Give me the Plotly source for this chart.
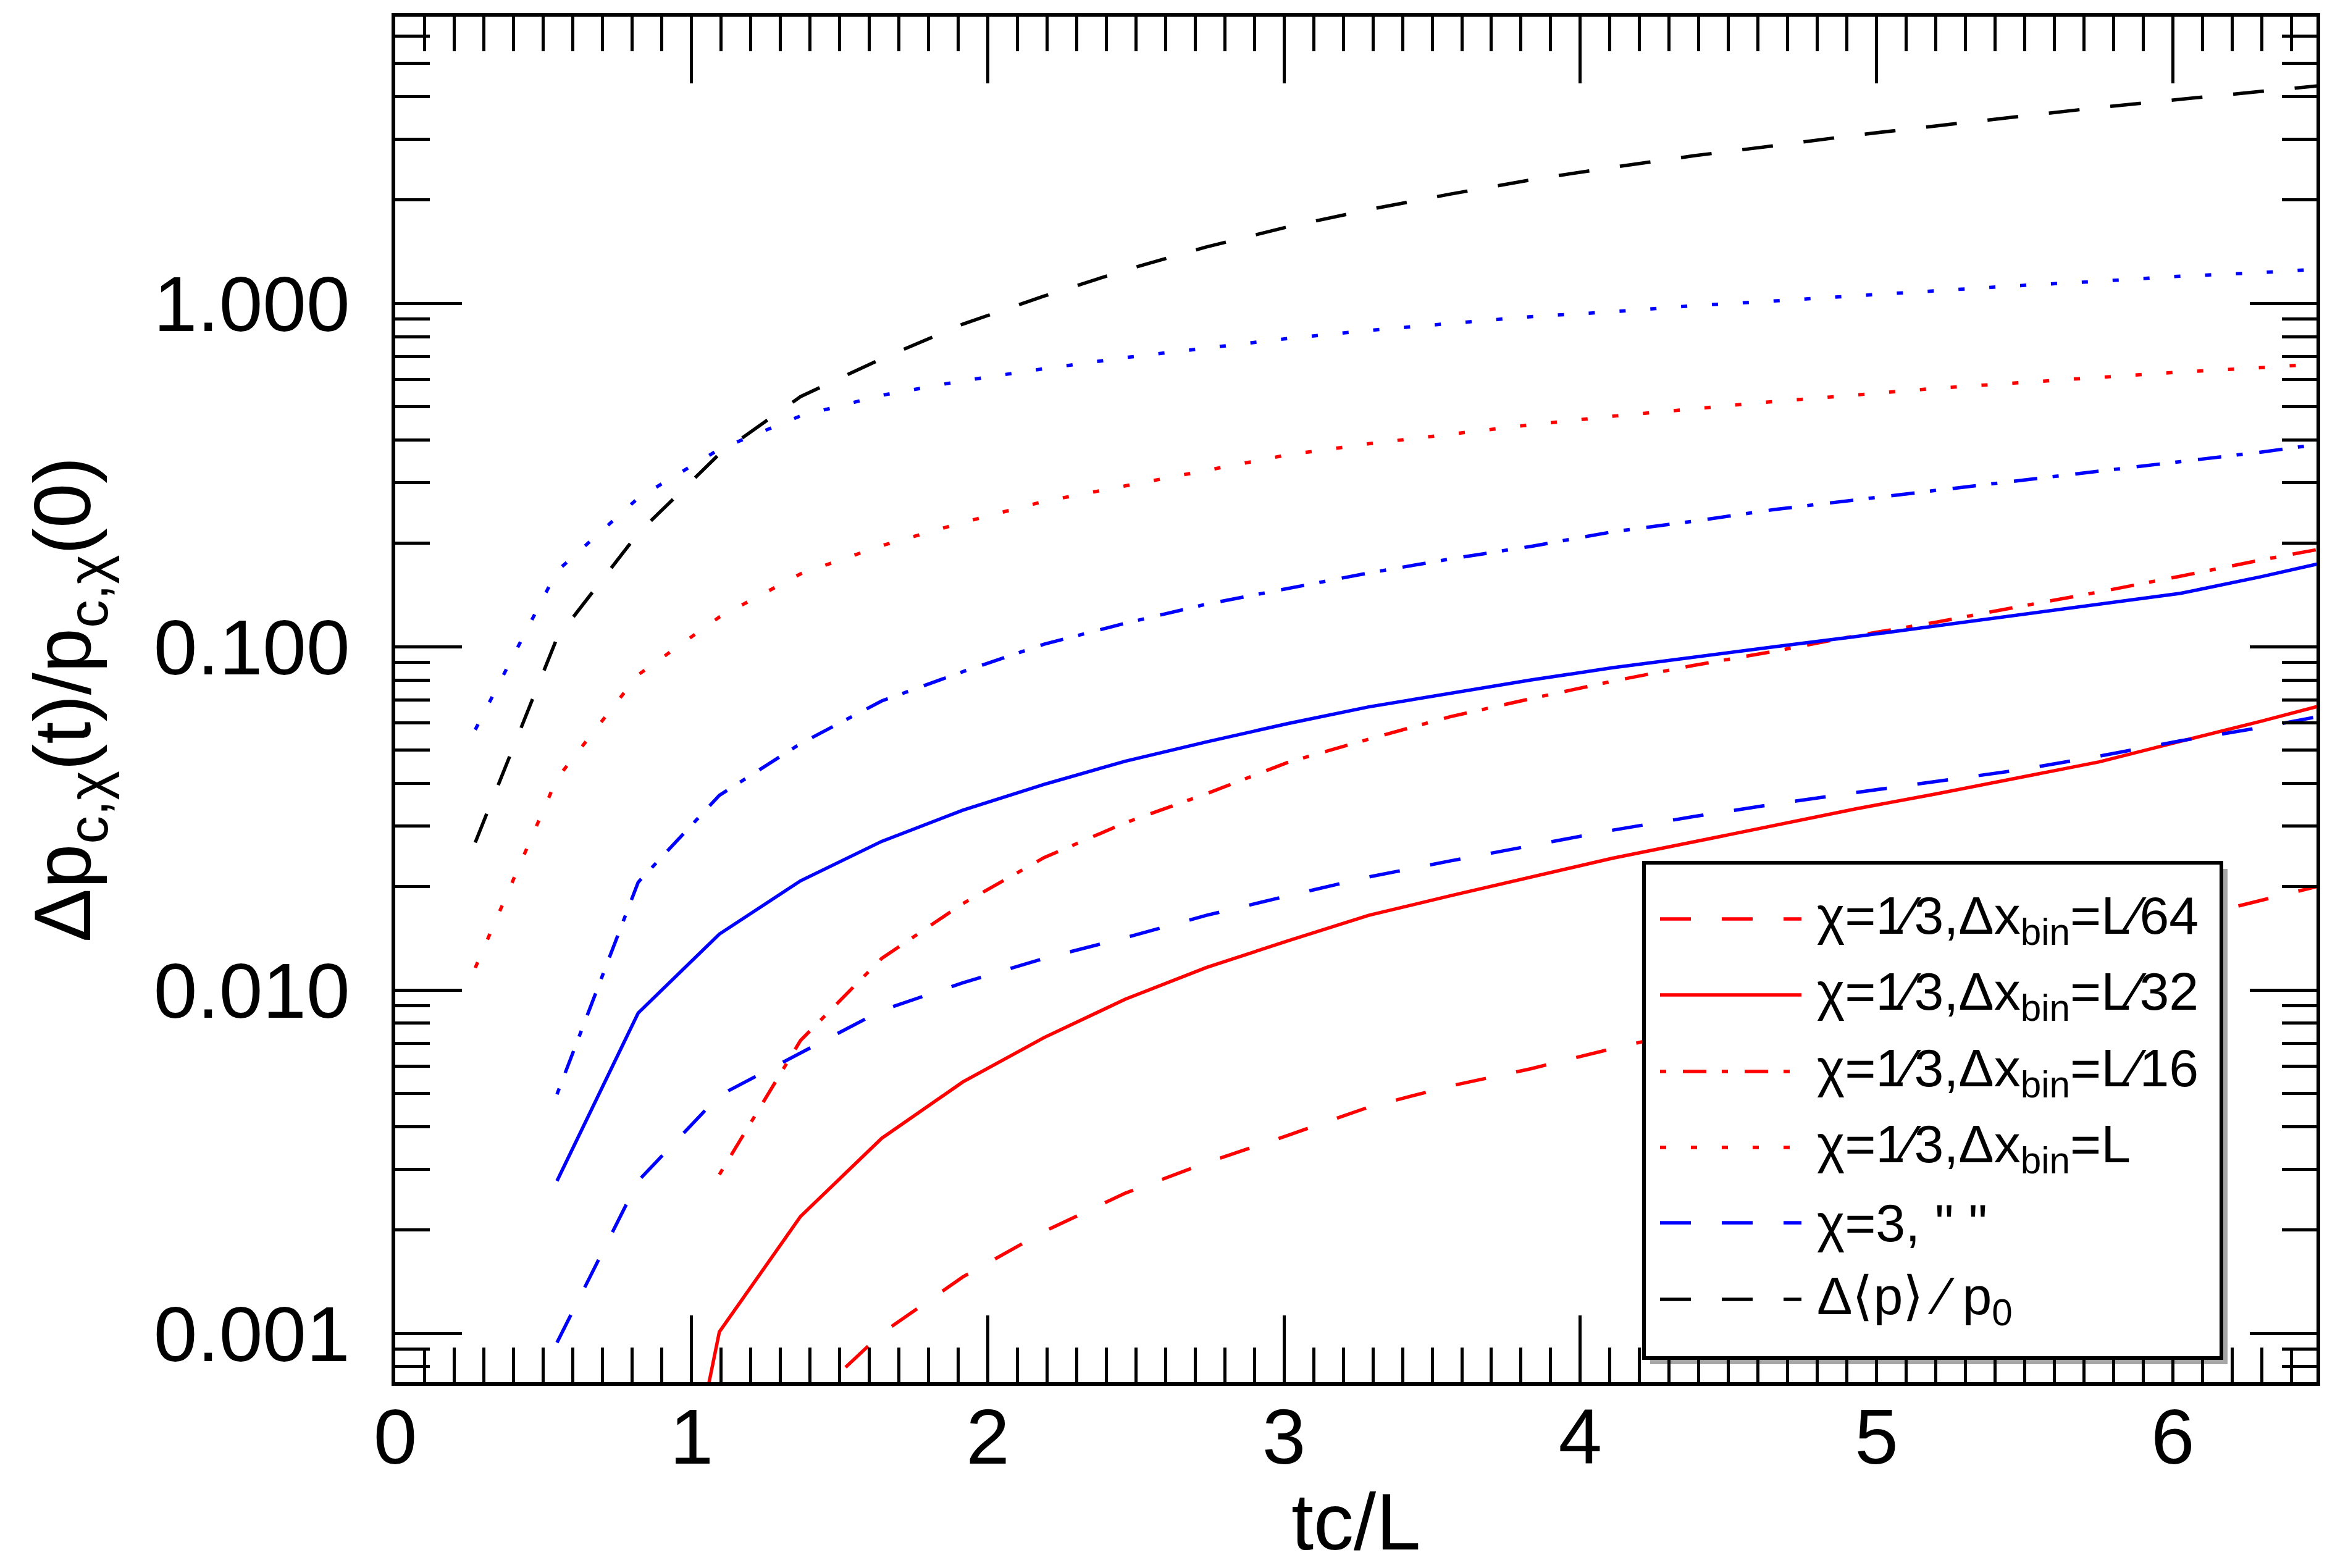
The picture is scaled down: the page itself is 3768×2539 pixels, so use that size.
import plotly.graph_objects as go

#---DATA---
tc_over_L = [0.27, 0.546, 0.82, 1.094, 1.368, 1.642, 1.916, 2.19, 2.464, 2.738, 3.012, 3.286,
             3.56, 3.834, 4.108, 4.382, 4.656, 4.93, 5.204, 5.478, 5.752, 6.026, 6.3, 6.574]

# chi = 1/3
red_L64 = [None, None, None, None, 0.0006, 0.001, 0.00146, 0.00198, 0.00256, 0.00314, 0.00377, 0.00456,
           0.00525, 0.0059, 0.00675, 0.00767, 0.00867, 0.0098, 0.01104, 0.01245, 0.01406, 0.01596, 0.0183, 0.0209]
red_L32 = [None, None, 0.00007, 0.00101, 0.00219, 0.0037, 0.0054, 0.00727, 0.0094, 0.01163, 0.0139, 0.0165,
           0.0188, 0.02135, 0.0242, 0.027, 0.0301, 0.0337, 0.0373, 0.0415, 0.0462, 0.053, 0.0607, 0.070]
red_L16 = [None, None, None, 0.0029, 0.00713, 0.01236, 0.01786, 0.0243, 0.0307, 0.0373, 0.046, 0.0538,
           0.0625, 0.0706, 0.0793, 0.0882, 0.097, 0.1076, 0.118, 0.1307, 0.1444, 0.1605, 0.179, 0.198]
red_L = [0.0116, 0.0413, 0.0828, 0.122, 0.163, 0.197, 0.23, 0.265, 0.294, 0.326, 0.362, 0.39,
         0.416, 0.443, 0.469, 0.494, 0.518, 0.541, 0.566, 0.587, 0.609, 0.631, 0.65, 0.673]

# chi = 3
blue_L64 = [None, 0.00094, 0.00278, 0.00493, 0.00656, 0.00872, 0.0105, 0.01236, 0.0142, 0.0165, 0.0188, 0.02135,
            0.02376, 0.0263, 0.0292, 0.032, 0.0348, 0.0376, 0.0405, 0.0437, 0.048, 0.0532, 0.0582, 0.0646]
blue_L32 = [None, 0.00278, 0.00857, 0.01455, 0.0208, 0.0271, 0.0334, 0.0397, 0.0464, 0.0528, 0.0597, 0.0668,
            0.0733, 0.080, 0.0868, 0.0933, 0.100, 0.107, 0.115, 0.124, 0.133, 0.143, 0.16, 0.181]
blue_L16 = [None, 0.00497, 0.0206, 0.0369, 0.0522, 0.0695, 0.0846, 0.1017, 0.117, 0.133, 0.148, 0.164,
            0.18, 0.196, 0.216, 0.232, 0.251, 0.268, 0.286, 0.305, 0.3246, 0.346, 0.369, 0.397]
blue_L = [0.0573, 0.166, 0.271, 0.376, 0.47, 0.54, 0.595, 0.645, 0.695, 0.743, 0.79, 0.834,
          0.873, 0.915, 0.945, 0.984, 1.017, 1.054, 1.09, 1.126, 1.16, 1.2, 1.23, 1.27]

# mean momentum
mean_p = [0.0269, 0.106, 0.214, 0.364, 0.535, 0.69, 0.87, 1.05, 1.25, 1.46, 1.67, 1.875,
          2.08, 2.29, 2.49, 2.69, 2.88, 3.09, 3.29, 3.50, 3.72, 3.93, 4.15, 4.37]

y_tickvals = [0.001, 0.01, 0.1, 1.0]
y_ticktext = ["0.001", "0.010", "0.100", "1.000"]

#---STYLES---
RED = "#ff0000"
BLUE = "#0000ff"
DASH = "50px,50px"
DOT = "10px,40px"
DASHDOT = "10px,27px,38px,25px"
FONT = "Liberation Sans"
LW = 5.5

# (name, values, colour, dash, shown in legend)
series = [
    ("χ=1⁄3,Δx<sub>bin</sub>=L⁄64", red_L64, RED, DASH, True),
    ("χ=1⁄3,Δx<sub>bin</sub>=L⁄32", red_L32, RED, "solid", True),
    ("χ=1⁄3,Δx<sub>bin</sub>=L⁄16", red_L16, RED, DASHDOT, True),
    ("χ=1⁄3,Δx<sub>bin</sub>=L", red_L, RED, DOT, True),
    ("χ=3, \" \"", blue_L64, BLUE, DASH, True),
    ("χ=3,Δx<sub>bin</sub>=L⁄32", blue_L32, BLUE, "solid", False),
    ("χ=3,Δx<sub>bin</sub>=L⁄16", blue_L16, BLUE, DASHDOT, False),
    ("χ=3,Δx<sub>bin</sub>=L", blue_L, BLUE, DOT, False),
    ("Δ⟨p⟩ ⁄ p<sub>0</sub>", mean_p, "black", DASH, True),
]

#---PLOT---
fig = go.Figure()
for name, vals, color, dash, _ in series:
    fig.add_trace(go.Scatter(
        x=tc_over_L, y=vals, name=name, mode="lines",
        line=dict(color=color, width=LW, dash=dash),
        connectgaps=False, showlegend=False))

#---PAGE GEOMETRY (px)---
W, H = 3768, 2539
L_M, R_M, T_M, B_M = 632, 25, 19, 309
plot_w = W - L_M - R_M
plot_h = H - T_M - B_M

def px_x(p):
    return (p - L_M) / plot_w

def px_y(p):
    return (H - B_M - p) / plot_h

#---STYLE---
fig.update_layout(
    width=W, height=H,
    margin=dict(l=L_M, r=R_M, t=T_M, b=B_M, pad=0),
    plot_bgcolor="white", paper_bgcolor="white",
    font=dict(family=FONT, color="black"),
    showlegend=False)

axis_common = dict(
    ticks="inside", tickcolor="black", tickwidth=5, ticklen=108,
    showline=True, linecolor="black", linewidth=6, mirror="ticks",
    showgrid=False, zeroline=False,
    tickfont=dict(family=FONT, size=127, color="black"))

fig.update_xaxes(
    range=[0, 6.485], tickmode="linear", tick0=0, dtick=1,
    minor=dict(ticks="inside", ticklen=56, tickwidth=5, tickcolor="black", dtick=0.1, showgrid=False),
    ticklabelstandoff=-26,
    **axis_common)

minor_y = [m * 10.0 ** e for e in range(-4, 1) for m in range(2, 10)]
fig.update_yaxes(
    type="log", range=[-3.142, 0.835],
    tickmode="array", tickvals=y_tickvals, ticktext=y_ticktext,
    minor=dict(ticks="inside", ticklen=56, tickwidth=5, tickcolor="black",
               tickmode="array", tickvals=minor_y, showgrid=False),
    title=dict(text="Δp<sub>c,χ</sub>(t)/p<sub>c,χ</sub>(0)", font=dict(family=FONT, size=130), standoff=60),
    ticklabelstandoff=42,
    **axis_common)

# x-axis title as an annotation so it stays inside the page
fig.add_annotation(xref="paper", yref="paper", x=0.5, y=px_y(2456),
                   xanchor="center", yanchor="middle", showarrow=False,
                   text="tc/L", font=dict(family=FONT, size=130, color="black"))

#---LEGEND BOX---
box_l, box_r, box_t, box_b = 2654, 3589, 1389, 2191
fig.add_shape(type="rect", xref="paper", yref="paper", layer="above",
              x0=px_x(box_l + 10), x1=px_x(box_r + 10), y0=px_y(box_b + 10), y1=px_y(box_t + 10),
              line=dict(width=0), fillcolor="rgba(0,0,0,0.35)")
fig.add_shape(type="rect", xref="paper", yref="paper", layer="above",
              x0=px_x(box_l), x1=px_x(box_r), y0=px_y(box_b), y1=px_y(box_t),
              line=dict(color="black", width=6), fillcolor="white")

legend_rows = [1480, 1603, 1727, 1850, 1972, 2096]
legend_items = [s for s in series if s[4]]
for row_y, (name, _, color, dash, _) in zip(legend_rows, legend_items):
    fig.add_shape(type="line", xref="paper", yref="paper", layer="above",
                  x0=px_x(2680), x1=px_x(2909), y0=px_y(row_y), y1=px_y(row_y),
                  line=dict(color=color, width=LW, dash=dash))
    fig.add_annotation(xref="paper", yref="paper", x=px_x(2932), y=px_y(row_y),
                       xanchor="left", yanchor="middle", showarrow=False,
                       text=name, font=dict(family=FONT, size=86, color="black"))

fig.write_html("out.html")
